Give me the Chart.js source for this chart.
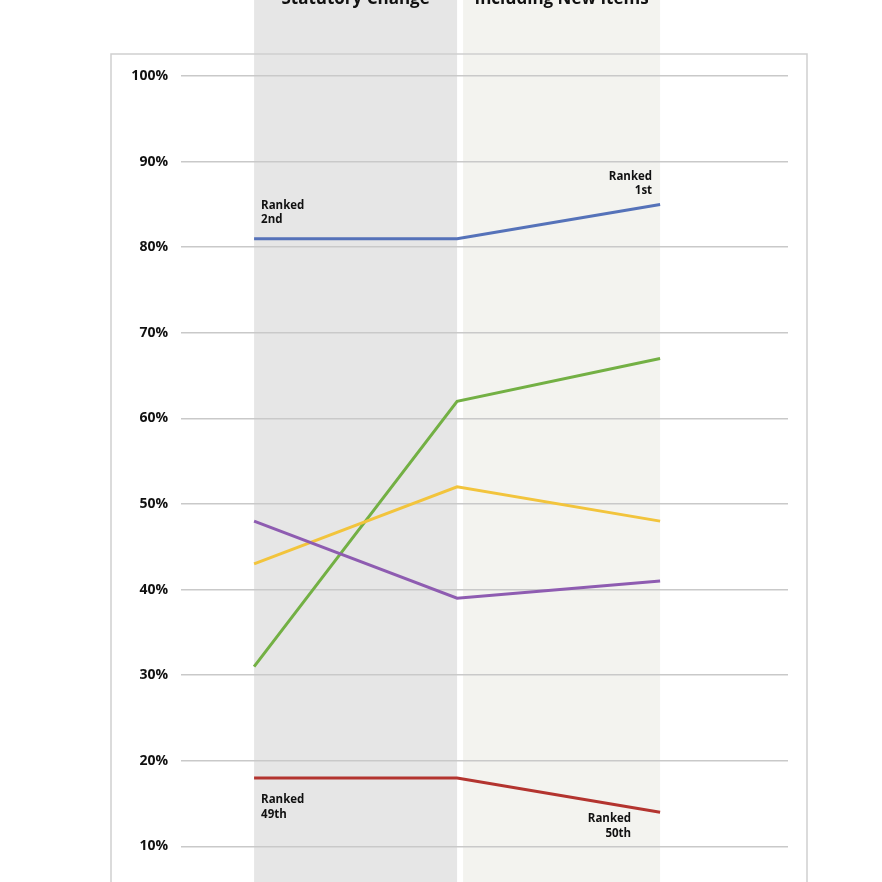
<!DOCTYPE html>
<html>
<head>
<meta charset="utf-8">
<script src="https://cdn.jsdelivr.net/npm/chart.js@4"></script>
<style>
  html, body { margin: 0; padding: 0; background: #fff; overflow: hidden; }
  #wrap { position: absolute; left: 0; top: 0; width: 882px; height: 960px; }
</style>
</head>
<body>
<div id="wrap"><canvas id="chart"></canvas></div>
<script>
const phases = ["Statutory Change", "Including New Items"];
const blueVals = [81, 81, 85];
const greenVals = [31, 62, 67];
const yellowVals = [43, 52, 48];
const purpleVals = [48, 39, 41];
const redVals = [18, 18, 14];
const yTicks = [10, 20, 30, 40, 50, 60, 70, 80, 90, 100];

// rank callouts: [text lines, point index, value, dx, dy, align]
const callouts = [
    [["Ranked", "2nd"], 0, 81, 7, -33, "left"],
    [["Ranked", "1st"], 2, 85, -8, -28, "right"],
    [["Ranked", "49th"], 0, 18, 7, 22, "left"],
    [["Ranked", "50th"], 2, 14, -29, 7, "right"],
];

const toPts = vals => vals.map((v, i) => ({x: i, y: v}));

const backdrop = {
    id: "backdrop",
    beforeDraw(chart) {
        const ctx = chart.ctx;
        const x = chart.scales.x;
        ctx.save();
        ctx.fillStyle = "#e6e6e6";
        ctx.fillRect(x.getPixelForValue(0), 0, x.getPixelForValue(1) - x.getPixelForValue(0), chart.height);
        ctx.fillStyle = "#f3f3ef";
        ctx.fillRect(x.getPixelForValue(1) + 6, 0, x.getPixelForValue(2) - x.getPixelForValue(1) - 6, chart.height);
        ctx.strokeStyle = "#cfcfcf";
        ctx.lineWidth = 1.5;
        ctx.strokeRect(111, 54, 696, chart.height);
        ctx.fillStyle = "#111";
        ctx.font = "bold 17px 'Open Sans', sans-serif";
        ctx.textAlign = "center";
        ctx.textBaseline = "middle";
        ctx.fillText(phases[0], (x.getPixelForValue(0) + x.getPixelForValue(1)) / 2, -1);
        ctx.fillText(phases[1], (x.getPixelForValue(1) + x.getPixelForValue(2)) / 2 + 3, -1);
        ctx.restore();
    },
    afterDatasetsDraw(chart) {
        const ctx = chart.ctx;
        const {x, y} = chart.scales;
        ctx.save();
        ctx.fillStyle = "#111";
        ctx.font = "bold 11.5px 'Open Sans', sans-serif";
        ctx.textBaseline = "middle";
        callouts.forEach(([lines, i, v, dx, dy, align]) => {
            ctx.textAlign = align;
            const px = x.getPixelForValue(i) + dx, py = y.getPixelForValue(v) + dy;
            lines.forEach((t, k) => ctx.fillText(t, px, py + k * 14.5));
        });
        ctx.restore();
    }
};

const line = (vals, color) => ({
    data: toPts(vals), borderColor: color, backgroundColor: color,
    borderWidth: 3, pointRadius: 0, tension: 0
});

new Chart(document.getElementById("chart"), {
    type: "line",
    data: {
        datasets: [
            line(redVals, "#b3342f"),
            line(purpleVals, "#8e5cb1"),
            line(yellowVals, "#f2c43c"),
            line(greenVals, "#73b044"),
            line(blueVals, "#5572b9"),
        ]
    },
    options: {
        responsive: true,
        maintainAspectRatio: false,
        animation: false,
        layout: {padding: {left: 0, right: 94, top: 76, bottom: 28}},
        plugins: {legend: {display: false}, tooltip: {enabled: false}},
        scales: {
            x: {
                type: "linear", min: -0.36, max: 2.63,
                display: false
            },
            y: {
                min: 0, max: 100,
                afterFit: s => { s.width = 181; },
                afterBuildTicks: s => { s.ticks = [0, ...yTicks].map(v => ({value: v})); },
                grid: {color: "#c9c9c9", lineWidth: 1.5, drawTicks: false},
                border: {display: false},
                ticks: {
                    padding: 13,
                    color: "#111",
                    font: {family: "'Open Sans', sans-serif", size: 14, weight: "bold"},
                    callback: v => v === 0 ? "" : v + "%"
                }
            }
        }
    },
    plugins: [backdrop]
});
</script>
</body>
</html>
